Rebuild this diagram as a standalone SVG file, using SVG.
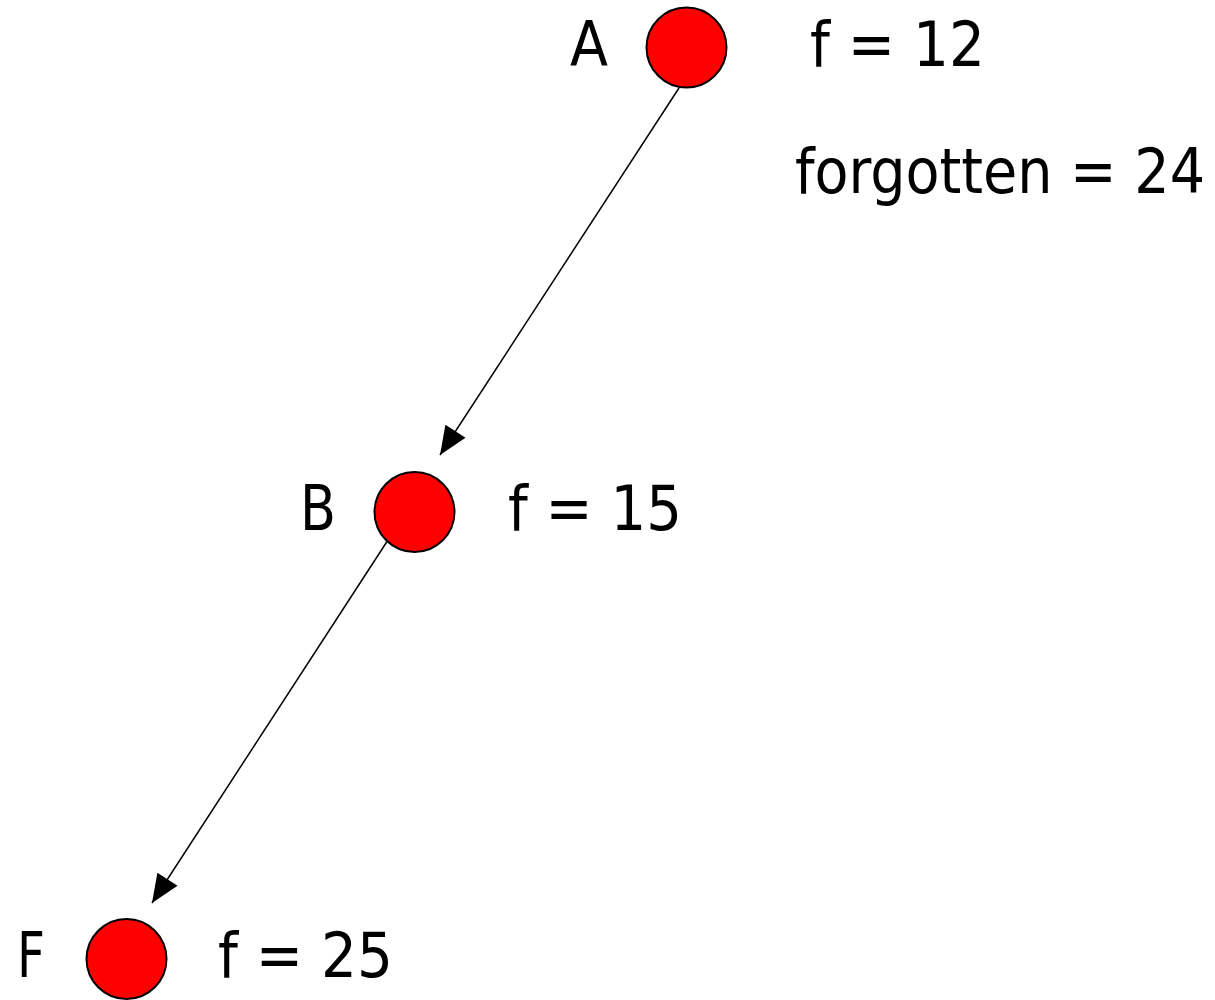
<svg xmlns="http://www.w3.org/2000/svg" width="1215" height="1000" viewBox="0 0 1215 1000">
<style>
.node{fill:#ff0000;stroke:#000;stroke-width:2}
.lbl{font-family:"DejaVu Sans Condensed","DejaVu Sans","Liberation Sans",sans-serif;font-stretch:condensed;font-size:62px;fill:#000}
.edge{stroke:#000;stroke-width:1.5;fill:none}
</style>
<defs>
<marker id="arr" markerUnits="userSpaceOnUse" markerWidth="30" markerHeight="24" viewBox="0 0 26 22" refX="26" refY="11" orient="auto">
<path d="M0,0 L26,11 L0,22 Z" fill="#000"/>
</marker>
</defs>
<rect width="1215" height="1000" fill="#fff"/>
<g id="connectors">
<line class="edge" x1="679" y1="88" x2="440" y2="455" marker-end="url(#arr)"/>
<line class="edge" x1="388" y1="540" x2="152" y2="903" marker-end="url(#arr)"/>
</g>
<g id="node-A">
<circle class="node" cx="686.5" cy="47.5" r="40"/>
<text class="lbl" x="570" y="66" textLength="38" lengthAdjust="spacingAndGlyphs">A</text>
<text class="lbl" x="810" y="66" textLength="175" lengthAdjust="spacingAndGlyphs">f = 12</text>
<text class="lbl" x="795" y="193" textLength="410" lengthAdjust="spacingAndGlyphs">forgotten = 24</text>
</g>
<g id="node-B">
<circle class="node" cx="414.5" cy="512" r="40"/>
<text class="lbl" x="300" y="530" textLength="36" lengthAdjust="spacingAndGlyphs">B</text>
<text class="lbl" x="508" y="530" textLength="174" lengthAdjust="spacingAndGlyphs">f = 15</text>
</g>
<g id="node-F">
<circle class="node" cx="126.5" cy="959" r="40"/>
<text class="lbl" x="17" y="977" textLength="28" lengthAdjust="spacingAndGlyphs">F</text>
<text class="lbl" x="218" y="977" textLength="175" lengthAdjust="spacingAndGlyphs">f = 25</text>
</g>
</svg>
